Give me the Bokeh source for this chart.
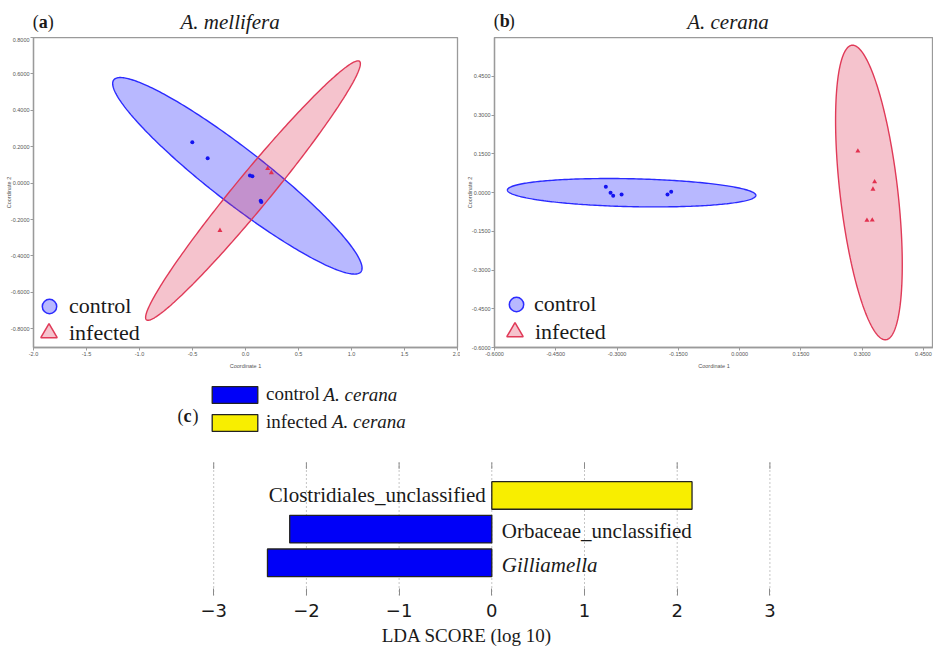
import numpy as np
from bokeh.plotting import figure
from bokeh.layouts import column, row
from bokeh.models import (Range1d, FixedTicker, NumeralTickFormatter, Label,
                          Legend, LegendItem, ColumnDataSource)
from bokeh.core.properties import value, field
from bokeh.embed import file_html
from bokeh.resources import INLINE

# ---------------- data ----------------
# (a) A. mellifera : PCoA coordinates
mel_control_x = [-0.502, -0.357, 0.042, 0.065, 0.143, 0.149]
mel_control_y = [0.225, 0.137, 0.042, 0.038, -0.097, -0.104]
mel_infected_x = [0.209, 0.244, -0.241]
mel_infected_y = [0.080, 0.057, -0.260]
# 95% ellipse semi-axis vectors (dx, dy) in data units: [major, minor]
mel_control_axes = [(1.166, -0.527), (-0.156, -0.117)]
mel_infected_axes = [(1.005, 0.710), (0.127, -0.061)]
mel_x_ticks = [-2.0, -1.5, -1.0, -0.5, 0.0, 0.5, 1.0, 1.5, 2.0]
mel_y_ticks = [-0.8, -0.6, -0.4, -0.2, 0.0, 0.2, 0.4, 0.6, 0.8]

# (b) A. cerana : PCoA coordinates
cer_control_x = [-0.3275, -0.3160, -0.3095, -0.2890, -0.1766, -0.1676]
cer_control_y = [0.0218, -0.0013, -0.0128, -0.0077, -0.0077, 0.0026]
cer_infected_x = [0.2893, 0.3303, 0.3262, 0.3115, 0.3245]
cer_infected_y = [0.1605, 0.0411, 0.0128, -0.1079, -0.1066]
cer_control_axes = [(0.304, -0.0103), (0.0, 0.054)]
cer_infected_axes = [(0.0416, -0.570), (-0.0702, -0.0127)]
cer_x_ticks = [-0.6, -0.45, -0.3, -0.15, 0.0, 0.15, 0.3, 0.45]
cer_y_ticks = [-0.6, -0.45, -0.3, -0.15, 0.0, 0.15, 0.3, 0.45]

# (c) LEfSe LDA scores
lda_taxa = ["Clostridiales_unclassified", "Orbaceae_unclassified", "Gilliamella"]
lda_scores = [2.16, -2.18, -2.42]
lda_groups = ["infected", "control", "control"]
lda_ticks = [-3, -2, -1, 0, 1, 2, 3]
lda_tick_labels = ["\u22123", "\u22122", "\u22121", "0", "1", "2", "3"]

# ---------------- styles ----------------
SERIF = "Liberation Serif"
SANS = "Liberation Sans"
BLUE_LINE = "#2b2bff"
BLUE_FILL = "#0000ff"
BLUE_PT = "#1414f0"
RED_LINE = "#e03a58"
RED_FILL = "#de3758"
RED_PT = "#e2304e"
AXIS_GRAY = "#9a9a9a"
TEXT_DARK = "#1a1a1a"


def ellipse_outline(xs, ys, axes, n=300):
    cx, cy = float(np.mean(xs)), float(np.mean(ys))
    (ux, uy), (vx, vy) = axes
    t = np.linspace(0, 2 * np.pi, n)
    return cx + ux * np.cos(t) + vx * np.sin(t), cy + uy * np.cos(t) + vy * np.sin(t)


def panel_letter(p, x, y, letter, size="18px"):
    # "(", bold letter, ")"
    common = dict(x=x, y=y, text_font=SERIF, text_font_size=size,
                  text_baseline="middle", text_align="left", text_color=TEXT_DARK)
    p.add_layout(Label(text="(", **common))
    p.add_layout(Label(text=letter, x_offset=6, text_font_style="bold", **common))
    p.add_layout(Label(text=")", x_offset=15, **common))


def header(width, letter_xy, title, title_xy):
    # pixel-like coordinates (y downwards) for the title strip
    h = figure(width=width, height=37, x_range=Range1d(0, width), y_range=Range1d(37, 0),
               output_backend="svg", toolbar_location=None,
               x_axis_location=None, y_axis_location=None, min_border=0)
    h.outline_line_color = None
    h.grid.visible = False
    panel_letter(h, letter_xy[0], letter_xy[1], letter_xy[2])
    h.add_layout(Label(x=title_xy[0], y=title_xy[1], text=title, text_font=SERIF,
                       text_font_size="21px", text_font_style="italic",
                       text_baseline="middle", text_align="center", text_color=TEXT_DARK))
    return h


def pcoa_panel(width, border_left, border_right, border_bottom, xr, yr, xt, yt,
               cx, cy, caxes, ix, iy, iaxes, legend_specs, xfmt):
    p = figure(width=width, height=335, x_range=Range1d(*xr), y_range=Range1d(*yr),
               output_backend="svg", toolbar_location=None,
               min_border_left=border_left, min_border_right=border_right,
               min_border_top=0, min_border_bottom=border_bottom)
    p.grid.visible = False
    p.outline_line_color = AXIS_GRAY
    p.outline_line_width = 1.3
    for ax, ticks, fmt in ((p.xaxis[0], xt, xfmt), (p.yaxis[0], yt, "0.0000")):
        ax.ticker = FixedTicker(ticks=ticks)
        ax.formatter = NumeralTickFormatter(format=fmt)
        ax.axis_line_color = AXIS_GRAY
        ax.axis_line_width = 1.3
        ax.major_tick_line_color = AXIS_GRAY
        ax.minor_tick_line_color = None
        ax.major_tick_out = 3
        ax.major_tick_in = 0
        ax.major_label_standoff = 1
        ax.major_label_text_font = SANS
        ax.major_label_text_font_size = "5.5px"
        ax.major_label_text_color = "#555555"
        ax.axis_label_text_font = SANS
        ax.axis_label_text_font_size = "5.5px"
        ax.axis_label_text_font_style = "normal"
        ax.axis_label_text_color = "#555555"
    p.xaxis.axis_label = "Coordinate 1"
    p.xaxis.axis_label_standoff = 4
    p.yaxis.axis_label = "Coordinate 2"
    p.yaxis.axis_label_standoff = -4

    ex, ey = ellipse_outline(cx, cy, caxes)
    p.patch(ex, ey, fill_color=BLUE_FILL, fill_alpha=0.28, line_color=BLUE_LINE, line_width=1.4)
    ex, ey = ellipse_outline(ix, iy, iaxes)
    p.patch(ex, ey, fill_color=RED_FILL, fill_alpha=0.30, line_color=RED_LINE, line_width=1.4)

    p.scatter(cx, cy, marker="circle", size=4, fill_color=BLUE_PT, line_color=None)
    p.scatter(ix, iy, marker="triangle", size=5, fill_color=RED_PT, line_color=None)

    leg_c = p.scatter(cx, cy, marker="circle", fill_color=BLUE_FILL, fill_alpha=0.28,
                      line_color=BLUE_LINE, line_width=1.5, visible=False)
    leg_i = p.scatter(ix, iy, marker="triangle", fill_color=RED_FILL, fill_alpha=0.30,
                      line_color=RED_LINE, line_width=1.5, visible=False)
    for lab, r, (lx, ly, gsize, standoff) in (("control", leg_c, legend_specs[0]),
                                              ("infected", leg_i, legend_specs[1])):
        legend = Legend(items=[LegendItem(label=lab, renderers=[r])],
                        location=(lx, ly), glyph_width=gsize, glyph_height=gsize,
                        padding=0, margin=0, label_standoff=standoff,
                        label_text_font=SERIF, label_text_font_size="22px",
                        label_text_color=TEXT_DARK,
                        border_line_color=None, background_fill_alpha=0)
        p.add_layout(legend)
    return p


head_a = header(460, (32.3, 21, "a"), "A. mellifera", (229.6, 21.7))
head_b = header(473, (33.3, 20, "b"), "A. cerana", (267.5, 21))

pa = pcoa_panel(460, 33, 3, 25, (-2.0, 2.0), (-0.903, 0.8), mel_x_ticks, mel_y_ticks,
                mel_control_x, mel_control_y, mel_control_axes,
                mel_infected_x, mel_infected_y, mel_infected_axes,
                [(-2, 23, 36, 2), (-5, -6, 41, 0)], "0.0")

pb = pcoa_panel(473, 34, 0, 24, (-0.6, 0.4744), (-0.6, 0.6), cer_x_ticks, cer_y_ticks,
                cer_control_x, cer_control_y, cer_control_axes,
                cer_infected_x, cer_infected_y, cer_infected_axes,
                [(4, 25, 36, 0), (0, -5, 41, 0)], "0.0000")

# ---------------- (c) LEfSe bar chart ----------------
pc = figure(width=933, height=280, x_range=Range1d(-5.2999, 4.7648),
            y_range=Range1d(-0.970, 5.650), output_backend="svg",
            toolbar_location=None, y_axis_location=None,
            min_border_left=0, min_border_right=0, min_border_top=0, min_border_bottom=57)
pc.grid.visible = False
pc.outline_line_color = None

GRID_TOP = 2.979
GRID_BOT = -0.970
pc.segment(x0=lda_ticks, x1=lda_ticks, y0=[GRID_BOT] * len(lda_ticks),
           y1=[GRID_TOP] * len(lda_ticks), line_color="#8a8a8a", line_width=1,
           line_dash="1 3")
pc.segment(x0=lda_ticks, x1=lda_ticks, y0=[GRID_TOP] * len(lda_ticks),
           y1=[GRID_TOP - 0.19] * len(lda_ticks), line_color="#8a8a8a", line_width=1)

n = len(lda_taxa)
ypos = [n - 1 - i for i in range(n)]
styles = ["normal" if "_" in t else "italic" for t in lda_taxa]


def subset(group):
    idx = [i for i, g in enumerate(lda_groups) if g == group]
    return ColumnDataSource(dict(y=[ypos[i] for i in idx],
                                 score=[lda_scores[i] for i in idx],
                                 taxon=[lda_taxa[i] for i in idx],
                                 style=[styles[i] for i in idx],
                                 zero=[0] * len(idx)))


src_ctrl = subset("control")
src_inf = subset("infected")
r_ctrl = pc.hbar(y="y", left="zero", right="score", height=0.82, source=src_ctrl,
                 fill_color="#0000f8", line_color="#222222", line_width=1.3)
r_inf = pc.hbar(y="y", left="zero", right="score", height=0.82, source=src_inf,
                fill_color="#f8ee00", line_color="#222222", line_width=1.3)

pc.text(x="zero", y="y", text="taxon", source=src_inf, x_offset=-6,
        text_align="right", text_baseline="middle", text_font=value(SERIF),
        text_font_size="21px", text_font_style=field("style"), text_color=TEXT_DARK)
pc.text(x="zero", y="y", text="taxon", source=src_ctrl, x_offset=10, y_offset=2,
        text_align="left", text_baseline="middle", text_font=value(SERIF),
        text_font_size="21px", text_font_style=field("style"), text_color=TEXT_DARK)

axc = pc.xaxis[0]
axc.ticker = FixedTicker(ticks=lda_ticks)
axc.major_label_overrides = {t: lab for t, lab in zip(lda_ticks, lda_tick_labels)}
axc.axis_line_color = None
axc.minor_tick_line_color = None
axc.major_tick_in = 7
axc.major_tick_out = 0
axc.major_tick_line_color = "#8a8a8a"
axc.major_label_standoff = 8
axc.major_label_text_font = "DejaVu Sans"
axc.major_label_text_font_size = "18px"
axc.major_label_text_color = TEXT_DARK
axc.axis_label = "LDA SCORE (log 10)"
axc.axis_label_text_font = SERIF
axc.axis_label_text_font_size = "19px"
axc.axis_label_text_font_style = "normal"
axc.axis_label_text_color = TEXT_DARK
axc.axis_label_standoff = 5

panel_letter(pc, -3.39, 4.344, "c")

leg_c = Legend(items=[LegendItem(label="control", renderers=[r_ctrl]),
                      LegendItem(label="infected", renderers=[r_inf])],
               location=(206, 162), glyph_width=57, glyph_height=21, label_height=21,
               spacing=6, padding=0, margin=0, label_standoff=3,
               label_text_font=SERIF, label_text_font_size="19px",
               label_text_color=TEXT_DARK,
               border_line_color=None, background_fill_alpha=0)
pc.add_layout(leg_c)
pc.add_layout(Label(x=-1.816, y=5.005, text="A. cerana", text_font=SERIF,
                    text_font_size="19px", text_font_style="italic",
                    text_align="left", text_baseline="middle", text_color=TEXT_DARK))
pc.add_layout(Label(x=-1.724, y=4.203, text="A. cerana", text_font=SERIF,
                    text_font_size="19px", text_font_style="italic",
                    text_align="left", text_baseline="middle", text_color=TEXT_DARK))

layout = column(row(head_a, head_b), row(pa, pb), pc)
open("out.html", "w").write(file_html(layout, INLINE))
